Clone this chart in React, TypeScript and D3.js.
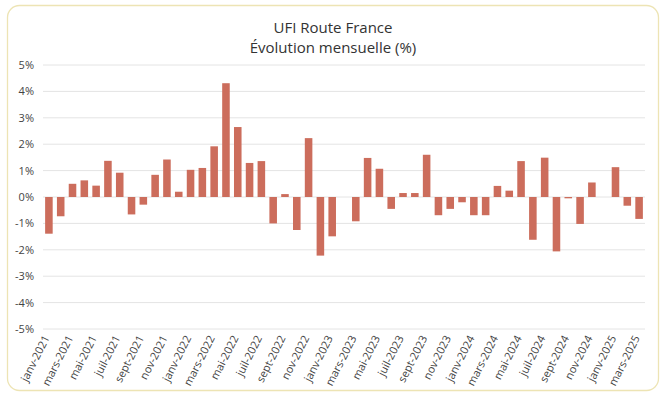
import * as React from 'react';
import * as d3 from 'd3';

const MONTHS = ['janv', 'févr', 'mars', 'avr', 'mai', 'juin', 'juil', 'août', 'sept', 'oct', 'nov', 'déc'];

// janv-2021 .. mars-2025
const categories: string[] = [];
for (let y = 2021; y <= 2025; y++) {
  for (let m = 0; m < 12; m++) {
    if (y === 2025 && m > 2) break;
    categories.push(`${MONTHS[m]}-${y}`);
  }
}

// évolution mensuelle (%)
const values = [
  -1.39, -0.73, 0.5, 0.63, 0.43, 1.37, 0.92, -0.66, -0.29, 0.84, 1.42, 0.2,
  1.03, 1.1, 1.92, 4.31, 2.65, 1.29, 1.36, -1.0, 0.11, -1.25, 2.23, -2.22,
  -1.49, 0.0, -0.92, 1.48, 1.07, -0.45, 0.15, 0.15, 1.6, -0.69, -0.45, -0.2,
  -0.69, -0.69, 0.42, 0.24, 1.36, -1.62, 1.49, -2.06, -0.05, -1.02, 0.55, 0.0,
  1.13, -0.33, -0.83,
];

const yTicks = [5, 4, 3, 2, 1, 0, -1, -2, -3, -4, -5];

export default function App() {
  const width = 666;
  const height = 399;
  const margin = { top: 65, right: 21, bottom: 70, left: 43 };

  const x = d3
    .scaleBand<string>()
    .domain(categories)
    .range([margin.left, width - margin.right])
    .paddingInner(0.36)
    .paddingOuter(0.18);
  const y = d3.scaleLinear().domain([-5, 5]).range([329, 65]);

  const font = "'Open Sans', sans-serif";

  return (
    <svg width={width} height={height} style={{ position: 'absolute', left: 0, top: 0 }}>
      <rect x={7.5} y={5.5} width={651} height={385} rx={12} fill="#fff" stroke="#ede4b4" strokeWidth={1.3} />
      <text x={333} y={33} textAnchor="middle" fontFamily={font} fontSize={15} fill="#333">
        UFI Route France
      </text>
      <text x={333} y={53} textAnchor="middle" fontFamily={font} fontSize={15} fill="#333">
        Évolution mensuelle (%)
      </text>

      {/* grille + axe y */}
      {yTicks.map((t) => (
        <g key={t}>
          <line x1={margin.left} x2={width - margin.right} y1={y(t)} y2={y(t)} stroke="#e4e4e4" strokeWidth={1} />
          <text x={34} y={y(t) + 4} textAnchor="end" fontFamily={font} fontSize={11} fill="#444">
            {`${t}%`}
          </text>
        </g>
      ))}

      {/* barres */}
      {values.map((v, i) => {
        const c = categories[i];
        return (
          <rect
            key={c}
            x={x(c)}
            width={x.bandwidth()}
            y={y(Math.max(0, v))}
            height={Math.abs(y(v) - y(0))}
            fill="#cc6d5c"
          />
        );
      })}

      {/* étiquettes x, une sur deux */}
      {categories.map((c, i) =>
        i % 2 === 0 ? (
          <text
            key={c}
            transform={`translate(${(x(c) ?? 0) + x.bandwidth() / 2 + 1},338) rotate(-63)`}
            textAnchor="end"
            fontFamily={font}
            fontSize={11}
            fill="#444"
          >
            {c}
          </text>
        ) : null
      )}
    </svg>
  );
}
